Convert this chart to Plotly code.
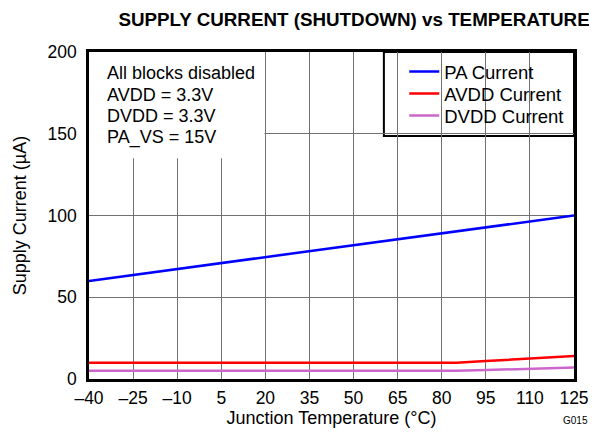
import plotly.graph_objects as go

# Data
temps = [-40, -25, -10, 5, 20, 35, 50, 65, 80, 85, 95, 110, 125]
pa_current = [60, 63.6, 67.3, 70.9, 74.5, 78.2, 81.8, 85.5, 89.1, 90.3, 92.7, 96.4, 100]
avdd_current = [10, 10, 10, 10, 10, 10, 10, 10, 10, 10, 11, 12.5, 14]
dvdd_current = [5, 5, 5, 5, 5, 5, 5, 5, 5, 5, 5.5, 6.2, 7]

x_tick_vals = [-40, -25, -10, 5, 20, 35, 50, 65, 80, 95, 110, 125]
x_tick_text = ["\u201340", "\u201325", "\u201310", "5", "20", "35", "50", "65", "80", "95", "110", "125"]
y_tick_vals = [0, 50, 100, 150, 200]

info_lines = ["All blocks disabled", "AVDD = 3.3V", "DVDD = 3.3V", "PA_VS = 15V"]

FONT = "Liberation Sans, Arial, sans-serif"
TXT = 18

fig = go.Figure()
fig.add_trace(go.Scatter(x=temps, y=pa_current, mode="lines", name="PA Current",
                         line=dict(color="#0000ff", width=2.5), legend="legend"))
fig.add_trace(go.Scatter(x=temps, y=avdd_current, mode="lines", name="AVDD Current",
                         line=dict(color="#ff0000", width=2.5), legend="legend2"))
fig.add_trace(go.Scatter(x=temps, y=dvdd_current, mode="lines", name="DVDD Current",
                         line=dict(color="#cc66cc", width=2.5), legend="legend3"))

# white box behind info text (hides grid)
fig.add_shape(type="rect", xref="x", yref="y", x0=-40, x1=19.7, y0=135, y1=200,
              fillcolor="white", line=dict(width=0), layer="between")
# legend box
fig.add_shape(type="rect", xref="paper", yref="paper", x0=0.608, x1=1.0, y0=0.743, y1=1.0,
              fillcolor="white", line=dict(color="black", width=2), layer="between")

line_y = [0.936, 0.870, 0.804, 0.739]
for txt, yy in zip(info_lines, line_y):
    fig.add_annotation(text=txt, xref="paper", yref="paper", x=0.033, y=yy,
                       xanchor="left", yanchor="middle", showarrow=False,
                       font=dict(family=FONT, size=TXT, color="black"))

fig.add_annotation(text="G015", xref="paper", yref="paper", x=1.0, y=-0.128,
                   xanchor="right", yanchor="middle", xshift=16, showarrow=False,
                   font=dict(family=FONT, size=10, color="black"))

leg_common = dict(xanchor="left", yanchor="middle", bgcolor="rgba(0,0,0,0)", borderwidth=0,
                  font=dict(family=FONT, size=18.5, color="black"), itemwidth=30)

fig.update_layout(
    width=589, height=425,
    margin=dict(l=81, r=23, t=44, b=54, autoexpand=False),
    paper_bgcolor="white", plot_bgcolor="white",
    font=dict(family=FONT, size=17, color="black"),
    title=dict(text="<b>SUPPLY CURRENT (SHUTDOWN) vs TEMPERATURE</b>",
               x=0.5875, xanchor="center", y=0.973, yanchor="middle",
               font=dict(family=FONT, size=18.8, color="black")),
    showlegend=True,
    legend=dict(x=0.65, y=0.939, **leg_common),
    legend2=dict(x=0.65, y=0.872, **leg_common),
    legend3=dict(x=0.65, y=0.804, **leg_common),
)
fig.update_xaxes(range=[-40, 125], tickvals=x_tick_vals, ticktext=x_tick_text,
                 automargin=False,
                 showgrid=True, gridcolor="#707070", gridwidth=1,
                 showline=True, linecolor="black", linewidth=2.5, mirror=True,
                 ticks="outside", ticklen=1, tickcolor="rgba(0,0,0,0)", zeroline=False,
                 tickfont=dict(family=FONT, size=17.5),
                 title=dict(text="Junction Temperature (\u00b0C)", standoff=2,
                            font=dict(family=FONT, size=18)))
fig.update_yaxes(range=[0, 200], tickvals=y_tick_vals,
                 automargin=False,
                 showgrid=True, gridcolor="#707070", gridwidth=1,
                 showline=True, linecolor="black", linewidth=2.5, mirror=True,
                 ticks="outside", ticklen=6, tickcolor="rgba(0,0,0,0)", zeroline=False,
                 tickfont=dict(family=FONT, size=17.5),
                 title=dict(text="Supply Current (\u00b5A)", standoff=17,
                            font=dict(family=FONT, size=18)))

fig.write_html("out.html")
